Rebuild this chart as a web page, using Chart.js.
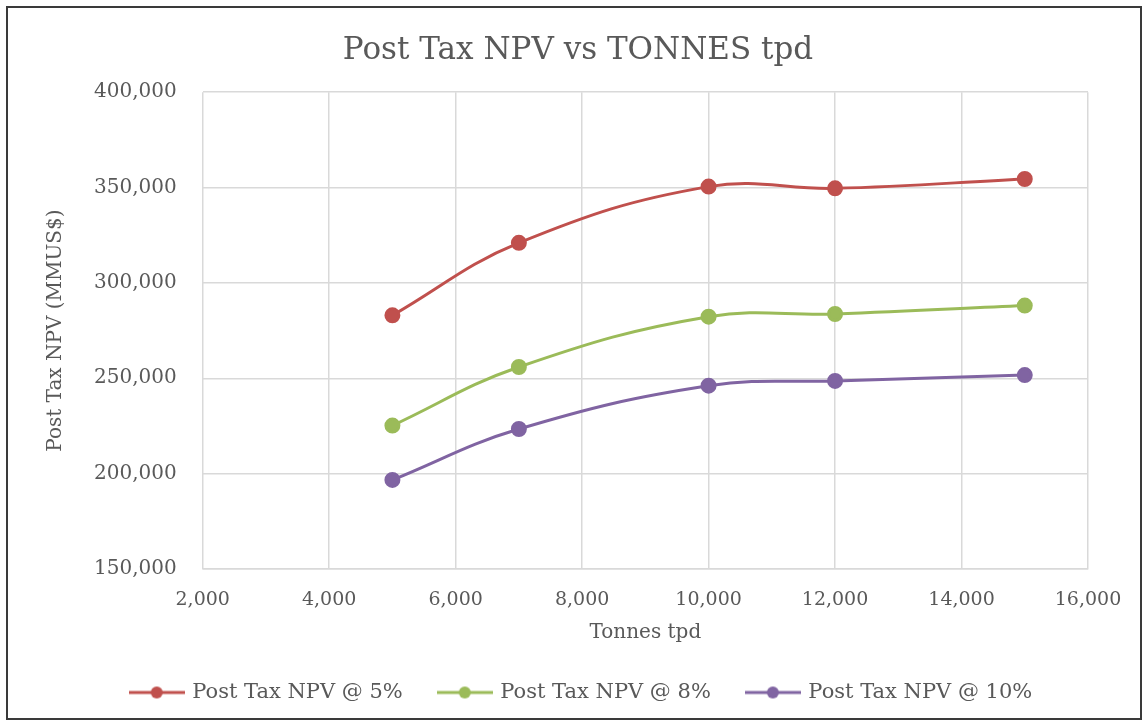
<!DOCTYPE html>
<html>
<head>
<meta charset="utf-8">
<script src="https://cdn.jsdelivr.net/npm/chart.js@4.4.1/dist/chart.umd.min.js"></script>
<style>
  html, body { margin: 0; padding: 0; background: #fff; }
  #frame { position: absolute; left: 6px; top: 6px; width: 1132px; height: 710px; border: 2px solid #3a3a3a; }
  #wrap { position: absolute; left: 0; top: 0; width: 1146px; height: 724px; }
</style>
</head>
<body>
<div id="frame"></div>
<div id="wrap"><canvas id="myChart"></canvas></div>
<script>
// tonnes per day on the x axis
const tonnes = [5000, 7000, 10000, 12000, 15000];
// Post tax NPV (MMUS$) at each discount rate
const npv5 = [283000, 321000, 350500, 349600, 354500];
const npv8 = [225200, 255900, 282300, 283700, 288100];
const npv10 = [196700, 223400, 246100, 248600, 251700];
const seriesNames = ['Post Tax NPV @ 5%', 'Post Tax NPV @ 8%', 'Post Tax NPV @ 10%'];
const xTicks = [2000, 4000, 6000, 8000, 10000, 12000, 14000, 16000];
const yTicks = [150000, 200000, 250000, 300000, 350000, 400000];

const colors = ['#C0504D', '#9BBB59', '#8064A2'];
const fontFam = '"DejaVu Serif", serif';
const textCol = '#595959';

// legend marker: short line with a dot, like the Excel legend
function legendIcon(color) {
  const c = document.createElement('canvas');
  c.width = 56; c.height = 14;
  const g = c.getContext('2d');
  g.strokeStyle = color; g.lineWidth = 3;
  g.beginPath(); g.moveTo(0, 7); g.lineTo(56, 7); g.stroke();
  g.fillStyle = color;
  g.beginPath(); g.arc(28, 7, 6, 0, Math.PI * 2); g.fill();
  return c;
}

function pts(ys) {
  return tonnes.map((t, i) => ({x: t, y: ys[i]}));
}

// the original title and legend sit a bit right of the canvas centre
const boxNudge = {
  id: 'boxNudge',
  afterLayout(chart) {
    if (chart.legend) { chart.legend.left += 16; chart.legend.right += 16; }
    if (chart.titleBlock) { chart.titleBlock.left += 12; chart.titleBlock.right += 12; }
  }
};

const allSeries = [npv5, npv8, npv10];

new Chart('myChart', {
  type: 'line',
  data: {
    datasets: allSeries.map((s, i) => ({
      label: seriesNames[i],
      data: pts(s),
      borderColor: colors[i],
      backgroundColor: colors[i],
      borderWidth: 3,
      pointRadius: 6.5,
      pointHoverRadius: 6.5,
      tension: 0.4,
      fill: false
    }))
  },
  plugins: [boxNudge],
  options: {
    responsive: true,
    maintainAspectRatio: false,
    animation: false,
    layout: { padding: { left: 44, right: 58, top: 32, bottom: 11 } },
    plugins: {
      title: {
        display: true,
        text: 'Post Tax NPV vs TONNES tpd',
        color: textCol,
        font: { family: fontFam, size: 31, weight: 'normal' },
        padding: { top: 0, bottom: 23 }
      },
      legend: {
        position: 'bottom',
        labels: {
          color: textCol,
          font: { family: fontFam, size: 21 },
          usePointStyle: true,
          pointStyleWidth: 50,
          padding: 37,
          generateLabels: (chart) => {
            const items = Chart.defaults.plugins.legend.labels.generateLabels(chart);
            items.forEach((it, i) => { it.pointStyle = legendIcon(colors[i]); });
            return items;
          }
        }
      },
      tooltip: { enabled: false }
    },
    scales: {
      x: {
        type: 'linear',
        min: xTicks[0],
        max: xTicks[xTicks.length - 1],
        afterBuildTicks: (axis) => { axis.ticks = xTicks.map(v => ({value: v})); },
        grid: { color: '#D9D9D9', lineWidth: 1.5, drawTicks: false },
        border: { color: '#D9D9D9', width: 1.5 },
        ticks: {
          color: textCol,
          font: { family: fontFam, size: 19, lineHeight: 1.0 },
          padding: 22,
          maxRotation: 0,
          callback: (v) => v.toLocaleString('en-US')
        },
        title: {
          display: true,
          text: 'Tonnes tpd',
          color: textCol,
          font: { family: fontFam, size: 20 },
          padding: { top: -11, bottom: 0 }
        }
      },
      y: {
        min: yTicks[0],
        max: yTicks[yTicks.length - 1],
        afterBuildTicks: (axis) => { axis.ticks = yTicks.map(v => ({value: v})); },
        grid: { color: '#D9D9D9', lineWidth: 1.5, drawTicks: false },
        border: { display: false },
        ticks: {
          color: textCol,
          font: { family: fontFam, size: 20 },
          padding: 26,
          callback: (v) => v.toLocaleString('en-US')
        },
        title: {
          display: true,
          text: 'Post Tax NPV (MMUS$)',
          color: textCol,
          font: { family: fontFam, size: 20 },
          padding: { top: 0, bottom: 0 }
        }
      }
    }
  }
});
</script>
</body>
</html>
